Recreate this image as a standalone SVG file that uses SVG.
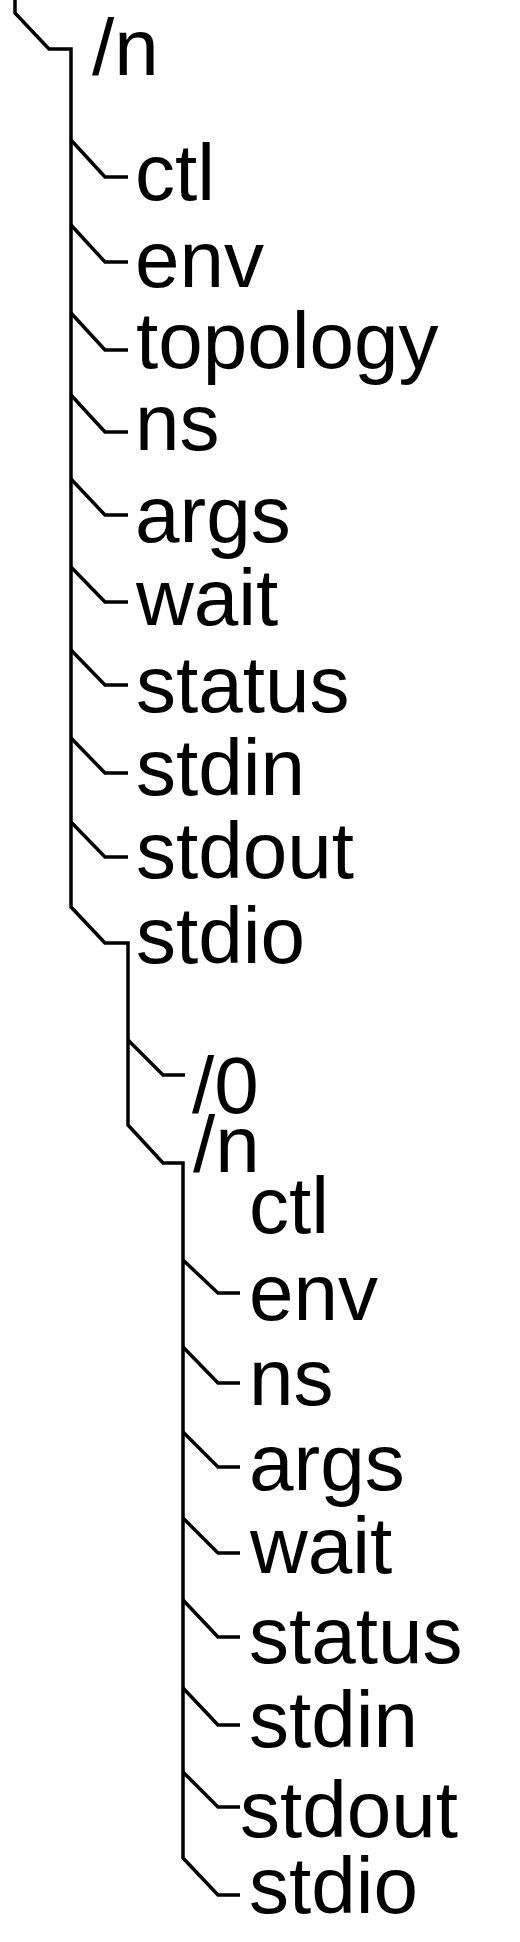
<svg xmlns="http://www.w3.org/2000/svg" width="520" height="1942" viewBox="0 0 520 1942">
<style>
.c{fill:none;stroke:#000;stroke-width:3.5;stroke-linejoin:miter;stroke-linecap:butt}
text{font-family:"Liberation Sans",Arial,Helvetica,sans-serif;font-size:80px;fill:#000}
</style>
<rect width="520" height="1942" fill="#fff"/>
<g id="connectors">
<polyline class="c" points="15,0 15,13 49,49 71,49 71,907 105,943 128,943 128,1125 163,1163 183,1163 183,1858 218,1895 240,1895"/>
<polyline class="c" points="71,140 105,177 128,177"/>
<polyline class="c" points="71,225 105,262 128,262"/>
<polyline class="c" points="71,313 105,350 128,350"/>
<polyline class="c" points="71,395 105,432 128,432"/>
<polyline class="c" points="71,479 105,515 128,515"/>
<polyline class="c" points="71,567 105,602 128,602"/>
<polyline class="c" points="71,650 105,685 128,685"/>
<polyline class="c" points="71,738 105,773 128,773"/>
<polyline class="c" points="71,822 105,857 128,857"/>
<polyline class="c" points="128,1040 163,1075 185,1075"/>
<polyline class="c" points="183,1260 218,1293 240,1293"/>
<polyline class="c" points="183,1347 218,1383 240,1383"/>
<polyline class="c" points="183,1432 218,1467 240,1467"/>
<polyline class="c" points="183,1518 218,1553 240,1553"/>
<polyline class="c" points="183,1600 218,1637 240,1637"/>
<polyline class="c" points="183,1688 218,1725 240,1725"/>
<polyline class="c" points="183,1772 218,1807 240,1807"/>
</g>
<g id="n_root"><text x="92" y="75">/n</text></g>
<g id="ctl"><text x="135" y="200">ctl</text></g>
<g id="env"><text x="135" y="287">env</text></g>
<g id="topology"><text x="136" y="368">topology</text></g>
<g id="ns"><text x="135" y="450">ns</text></g>
<g id="args"><text x="135" y="542">args</text></g>
<g id="wait"><text x="136" y="625">wait</text></g>
<g id="status"><text x="136" y="712">status</text></g>
<g id="stdin"><text x="136" y="795">stdin</text></g>
<g id="stdout"><text x="136" y="878">stdout</text></g>
<g id="stdio"><text x="136" y="963">stdio</text></g>
<g id="s0"><text x="192" y="1113">/0</text></g>
<g id="sn"><text x="193" y="1172">/n</text></g>
<g id="sn_ctl"><text x="249" y="1233">ctl</text></g>
<g id="sn_env"><text x="249" y="1320">env</text></g>
<g id="sn_ns"><text x="249" y="1405">ns</text></g>
<g id="sn_args"><text x="249" y="1490">args</text></g>
<g id="sn_wait"><text x="250" y="1573">wait</text></g>
<g id="sn_status"><text x="249" y="1663">status</text></g>
<g id="sn_stdin"><text x="249" y="1747">stdin</text></g>
<g id="sn_stdout"><text x="240" y="1837">stdout</text></g>
<g id="sn_stdio"><text x="249" y="1913">stdio</text></g>
</svg>
